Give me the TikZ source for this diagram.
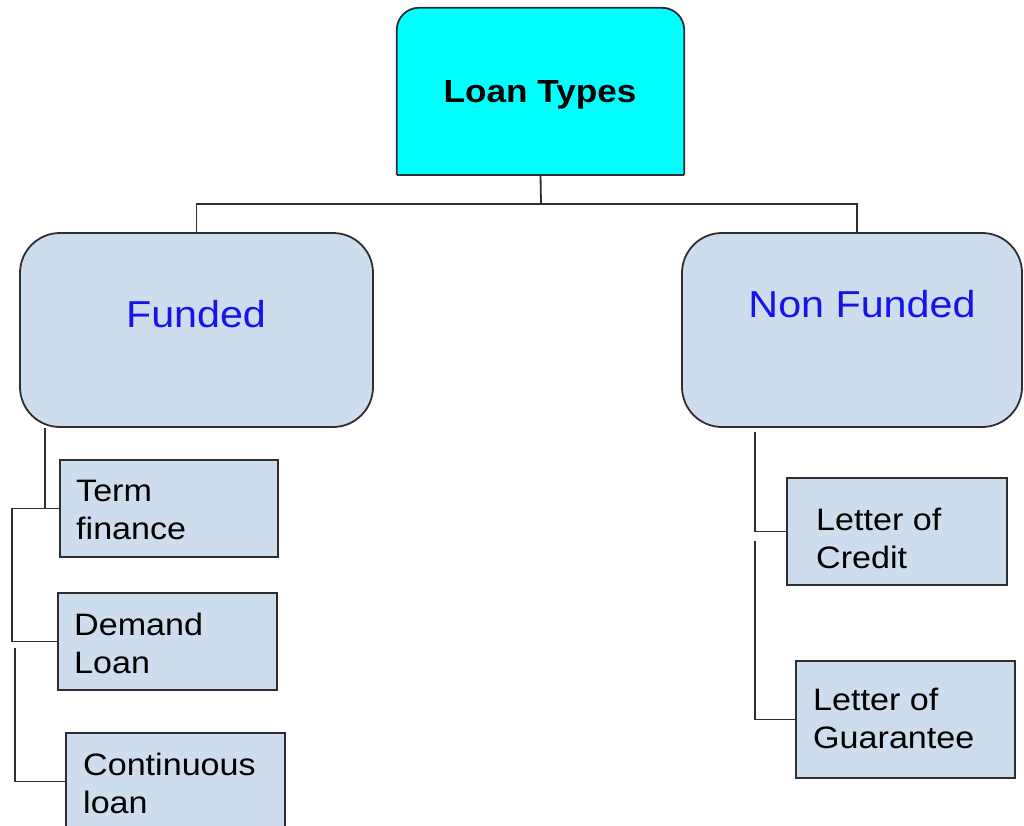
\documentclass[tikz,border=0pt]{standalone}
\usepackage{fontspec}
\setmainfont{Liberation Sans}
\usetikzlibrary{calc}
\definecolor{boxblue}{RGB}{206,221,237}
\definecolor{topcyan}{RGB}{0,255,255}
\definecolor{edge}{RGB}{45,45,50}
\definecolor{labelblue}{RGB}{20,20,235}
\tikzset{
  conn/.style={draw=edge, line width=1.8pt},
  bigbox/.style={draw=edge, line width=1.8pt, fill=boxblue, rounded corners=40pt, inner sep=0pt},
  smallbox/.style={draw=edge, line width=1.8pt, fill=boxblue, inner sep=0pt},
  smalltext/.style={font=\fontsize{31}{38}\selectfont, align=left, anchor=west, inner sep=0pt},
  biglabel/.style={font=\fontsize{37.5}{44}\selectfont, text=labelblue, inner sep=0pt},
}
\newcommand{\wide}[1]{\scalebox{1.1}[1]{#1}}
\begin{document}
\begin{tikzpicture}[x=1pt,y=-1pt]
\useasboundingbox[fill=white] (0,0) rectangle (1024,826);

% top node
\node[minimum width=287pt, minimum height=167pt, inner sep=0pt] (top) at (540.5,91.5) {};
\fill[topcyan, rounded corners=22pt] (top.south west) -- (top.north west) -- (top.north east) -- (top.south east);
\draw[edge, line width=1.8pt, rounded corners=22pt] (top.south west) -- (top.north west) -- (top.north east) -- (top.south east);
\draw[edge, line width=1.8pt] (top.south west) -- (top.south east);
\node[font=\bfseries\fontsize{32}{38}\selectfont, inner sep=0pt] (toptext) at (540,95) {\wide{Loan Types}};

% level 2
\node[bigbox, minimum width=353pt, minimum height=194pt] (fnd) at (196.5,330) {};
\node[biglabel] (fndtext) at (196,314) {\wide{Funded}};
\node[bigbox, minimum width=340pt, minimum height=194pt] (nf) at (852,330) {};
\node[biglabel] (nftext) at (862,304) {\wide{Non Funded}};

% leaves left
\node[smallbox, minimum width=218pt, minimum height=97pt] (term) at (169,508.5) {};
\node[smalltext] (termtext) at (76,510) {\wide{Term}\\\wide{finance}};
\node[smallbox, minimum width=219pt, minimum height=97pt] (demand) at (167.5,641.5) {};
\node[smalltext] (demandtext) at (74,643) {\wide{Demand}\\\wide{Loan}};
\node[smallbox, minimum width=219pt, minimum height=97pt] (cont) at (175.5,781.5) {};
\node[smalltext] (conttext) at (83,783) {\wide{Continuous}\\\wide{loan}};

% leaves right
\node[smallbox, minimum width=220pt, minimum height=107pt] (loc) at (897,531.5) {};
\node[smalltext] (loctext) at (816,538) {\wide{Letter of}\\\wide{Credit}};
\node[smallbox, minimum width=219pt, minimum height=117pt] (log) at (905.5,719.5) {};
\node[smalltext] (logtext) at (813,718) {\wide{Letter of}\\\wide{Guarantee}};

% connectors top
\coordinate (bus) at (541,204);
\draw[conn] (top.south) -- (bus);
\draw[conn] (bus) -| (fnd.north);
\coordinate (nfin) at ($(nf.north)+(5,0)$);
\draw[conn] (bus) -| (nfin);

% connectors left
\coordinate (fout) at ($(fnd.south west)+(26,0)$);
\coordinate (l1) at (12,508.5);
\coordinate (l2) at (15,648);
\draw[conn] (fout) |- (term.west);
\draw[conn] (term.west) -- (l1) |- (demand.west);
\draw[conn] (l2) |- (cont.west);

% connectors right
\coordinate (r1) at (755,432);
\coordinate (r2) at (755,541);
\draw[conn] (r1) |- (loc.west);
\draw[conn] (r2) |- (log.west);
\end{tikzpicture}
\end{document}
